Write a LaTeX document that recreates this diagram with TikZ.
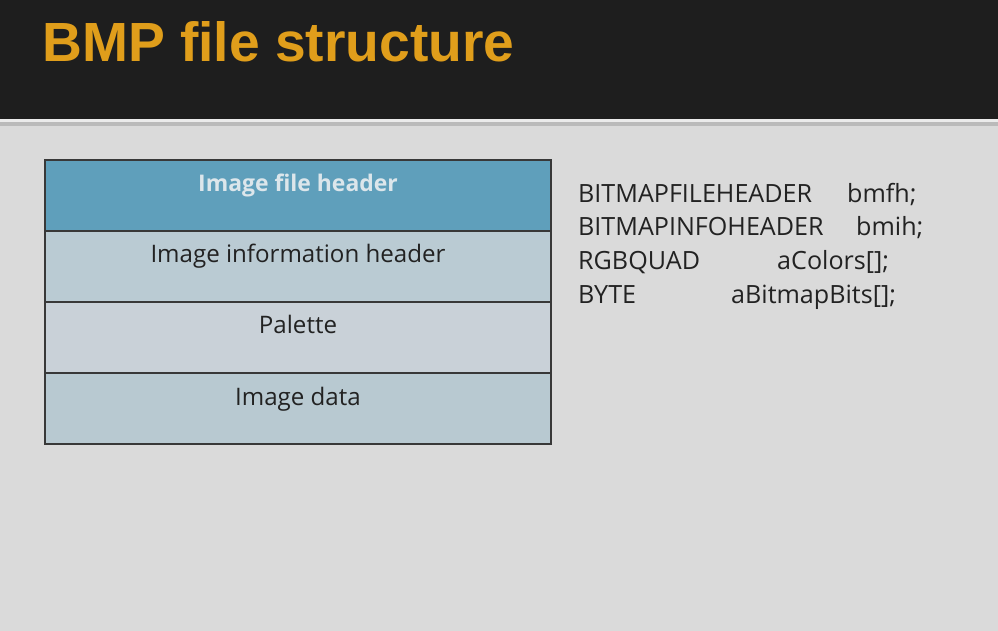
\documentclass[tikz,border=0pt]{standalone}
\usepackage{fontspec}
\setmainfont{Open Sans}
\newfontfamily\titlefont{Liberation Sans}
\begin{document}
\definecolor{barbg}{HTML}{1E1E1E}
\definecolor{slidebg}{HTML}{DADADA}
\definecolor{titlegold}{HTML}{E09E1B}
\definecolor{rowA}{HTML}{5F9FBB}
\definecolor{rowB}{HTML}{BACBD3}
\definecolor{rowC}{HTML}{C9D1D8}
\definecolor{rowD}{HTML}{B8C9D1}
\definecolor{inkdark}{HTML}{222222}
\definecolor{headink}{HTML}{DCE6EB}
\begin{tikzpicture}[x=1bp,y=-1bp,
  rowbox/.style={draw=inkdark!90, line width=1.4bp, anchor=north west,
    minimum width=506bp, minimum height=71bp, inner sep=0pt, outer sep=0pt},
  rowtext/.style={anchor=base, font=\fontsize{24.2}{28}\selectfont, text=inkdark, inner sep=0pt},
  codetext/.style={anchor=base west, font=\fontsize{25.2}{30}\selectfont, text=inkdark, inner sep=0pt}]
  % canvas and title bar
  \fill[slidebg] (0,0) rectangle (998,631);
  \useasboundingbox (0,0) rectangle (998,631);
  \fill[barbg] (0,0) rectangle (998,119);
  \fill[black!8] (0,119) rectangle (998,122.5);
  \fill[black!27] (0,122.5) rectangle (998,126);
  \node[anchor=base west, inner sep=0pt, text=titlegold,
        font=\titlefont\bfseries\fontsize{55.4}{60}\selectfont] (title) at (42,61.5) {BMP file structure};

  % file layout table
  \node[rowbox, fill=rowA] (r1) at (45,160) {};
  \node[rowbox, fill=rowB] (r2) at (45,231) {};
  \node[rowbox, fill=rowC] (r3) at (45,302) {};
  \node[rowbox, fill=rowD] (r4) at (45,373) {};
  \node[rowtext, text=headink, font=\bfseries\fontsize{23}{27}\selectfont] (t1) at ([yshift=-32bp]r1.north) {Image file header};
  \node[rowtext] (t2) at ([yshift=-31bp]r2.north) {Image information header};
  \node[rowtext] (t3) at ([yshift=-31bp]r3.north) {Palette};
  \node[rowtext] (t4) at ([yshift=-32bp]r4.north) {Image data};

  % matching declarations
  \node[codetext] (c1a) at (578,203) {BITMAPFILEHEADER};
  \node[codetext] (c1b) at (847,203) {bmfh;};
  \node[codetext] (c2a) at (578,236) {BITMAPINFOHEADER};
  \node[codetext] (c2b) at (856,236) {bmih;};
  \node[codetext] (c3a) at (578,270) {RGBQUAD};
  \node[codetext] (c3b) at (777,270) {aColors[];};
  \node[codetext] (c4a) at (578,303) {BYTE};
  \node[codetext] (c4b) at (731,303) {aBitmapBits[];};
\end{tikzpicture}
\end{document}
